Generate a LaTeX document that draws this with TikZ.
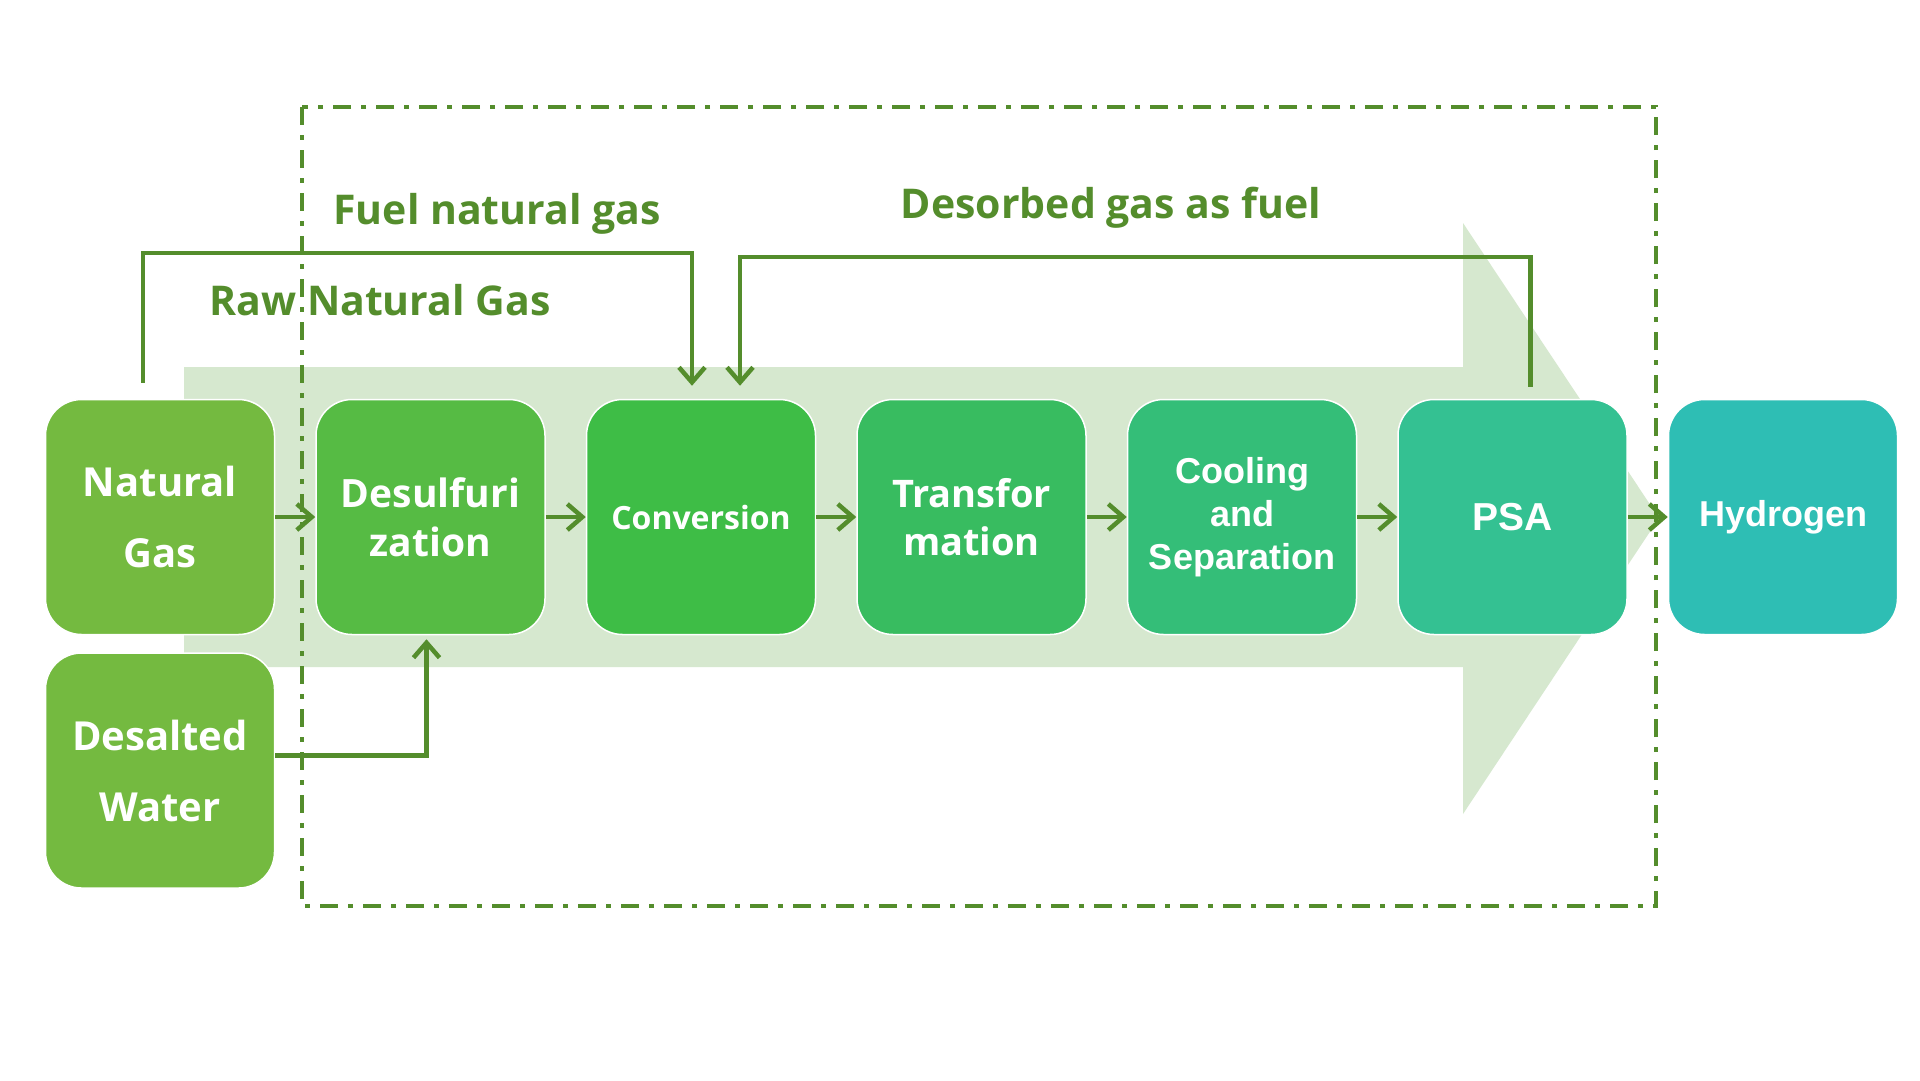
\documentclass[tikz,border=0pt]{standalone}
\usepackage{fontspec}
\setmainfont{Open Sans}
\newfontfamily\arialfont{Liberation Sans}
\usepackage{tikz}
\usetikzlibrary{arrows.meta, positioning}
\usepackage{xcolor}
\definecolor{linegreen}{RGB}{84,141,44}
\definecolor{bandgreen}{RGB}{214,232,207}
\definecolor{feedfill}{RGB}{116,186,64}
\definecolor{desfill}{RGB}{86,187,68}
\definecolor{convfill}{RGB}{62,189,70}
\definecolor{transfill}{RGB}{56,188,96}
\definecolor{coolfill}{RGB}{52,190,120}
\definecolor{psafill}{RGB}{52,193,146}
\definecolor{hydrofill}{RGB}{46,190,180}

\begin{document}
\begin{tikzpicture}[
  x=1pt, y=-1pt,
  node distance=17pt and 40pt,
  stage/.style={draw=white, line width=1.5pt, rounded corners=36pt,
                minimum width=229pt, minimum height=235pt, inner sep=0pt,
                text=white, align=center, font=\bfseries\fontsize{39}{49}\selectfont},
  feed/.style={stage, fill=feedfill, font=\bfseries\fontsize{40}{71}\selectfont},
  flow/.style={-{Straight Barb[length=15pt,width=26pt]}, line width=4.5pt, draw=linegreen},
  lbl/.style={text=linegreen, font=\bfseries\fontsize{41}{48}\selectfont}
]
\fill[white] (0,0) rectangle (1920,1080);
\useasboundingbox (0,0) rectangle (1920,1080);

% process band
\fill[bandgreen] (184,367) -- (1463,367) -- (1463,223) -- (1659,518)
  -- (1463,814) -- (1463,667) -- (184,667) -- cycle;
\draw[linegreen, line width=4pt, dash pattern=on 18pt off 10pt on 5pt off 10pt]
  (302,107) rectangle (1656,906);

\node[feed] (ng) at (160,517) {Natural\\Gas};
\node[feed, below=of ng] (water) {Desalted\\Water};
\node[stage, fill=desfill, right=of ng] (desulf) {Desulfuri\\zation};
\node[stage, fill=convfill, right=of desulf, font=\bfseries\fontsize{32}{40}\selectfont] (conv) {Conversion};
\node[stage, fill=transfill, right=of conv, font=\bfseries\fontsize{38}{48}\selectfont] (trans) {Transfor\\mation};
\node[stage, fill=coolfill, right=of trans, font=\arialfont\bfseries\fontsize{36}{43}\selectfont] (cool) {Cooling\\and\\Separation};
\node[stage, fill=psafill, right=of cool, font=\arialfont\bfseries\fontsize{39}{46}\selectfont] (psa) {PSA};
\node[stage, fill=hydrofill, right=of psa, font=\arialfont\bfseries\fontsize{36}{44}\selectfont] (hydro) {Hydrogen};

\node[lbl] (fuellbl) at (497,214) {Fuel natural gas};
\node[lbl] (rawlbl) at (380,300) {Raw Natural Gas};
\node[lbl] (desorblbl) at (1111,208) {Desorbed gas as fuel};

\coordinate (rawknee) at (692,253);
\coordinate (desknee) at (740,257);

\draw[flow] (ng) -- (desulf);
\draw[flow] (desulf) -- (conv);
\draw[flow] (conv) -- (trans);
\draw[flow] (trans) -- (cool);
\draw[flow] (cool) -- (psa);
\draw[flow] (psa) -- (hydro);
\draw[flow, shorten >=13pt] ([xshift=-17pt,yshift=16pt]ng.north) |- (rawknee) -- (rawknee |- conv.north);
\draw[flow, shorten >=13pt] ([xshift=18pt,yshift=12pt]psa.north) |- (desknee) -- (desknee |- conv.north);
\draw[flow, shorten >=4pt] ([yshift=15pt]water.east) -| ([xshift=-4pt]desulf.south);
\end{tikzpicture}
\end{document}
